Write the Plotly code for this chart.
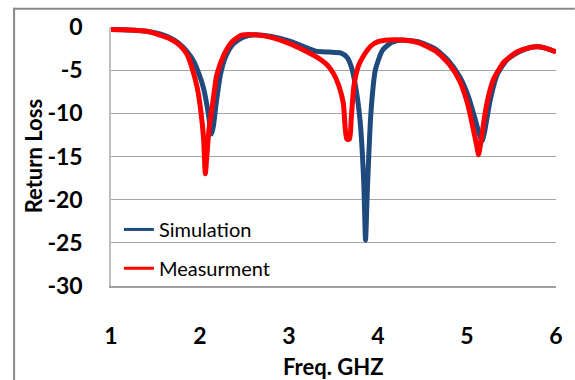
import plotly.graph_objects as go

# ---- data ----
sim_freq = [1.0, 1.2, 1.4, 1.55, 1.65, 1.75, 1.85, 1.93, 1.99, 2.04, 2.09, 2.12, 2.13, 2.15, 2.18, 2.23, 2.29, 2.37, 2.48, 2.62,
            2.8, 3.0, 3.15, 3.3, 3.45, 3.58, 3.65, 3.7, 3.75, 3.8, 3.84, 3.86, 3.88, 3.92, 3.97, 4.05, 4.15, 4.27,
            4.45, 4.65, 4.8, 4.92, 5.02, 5.1, 5.15, 5.17, 5.2, 5.26, 5.34, 5.45, 5.58, 5.7, 5.8, 5.9, 6.0]
sim_rl = [-0.3, -0.35, -0.5, -0.8, -1.2, -1.8, -2.8, -4.0, -5.5, -7.1, -9.8, -12.0, -12.4, -11.5, -9.0, -5.5, -3.4, -2.0, -1.2, -0.9,
          -1.1, -1.6, -2.2, -2.8, -2.9, -3.0, -3.5, -4.6, -7.0, -11.0, -18.0, -24.7, -19.0, -10.0, -5.0, -2.7, -1.8, -1.5,
          -1.7, -2.6, -4.0, -5.8, -8.2, -11.0, -12.8, -13.2, -12.0, -8.5, -5.5, -3.8, -2.9, -2.4, -2.3, -2.5, -2.9]

meas_freq = [1.0, 1.2, 1.4, 1.54, 1.65, 1.77, 1.85, 1.9, 1.97, 2.01, 2.04, 2.06, 2.08, 2.1, 2.14, 2.19, 2.27, 2.36, 2.47, 2.62,
             2.8, 3.0, 3.15, 3.3, 3.43, 3.5, 3.56, 3.61, 3.63, 3.65, 3.68, 3.7, 3.73, 3.78, 3.84, 3.92, 4.0, 4.12, 4.27,
             4.45, 4.65, 4.8, 4.92, 5.01, 5.07, 5.11, 5.13, 5.16, 5.22, 5.3, 5.42, 5.56, 5.7, 5.8, 5.9, 6.0]
meas_rl = [-0.3, -0.35, -0.5, -0.9, -1.3, -2.1, -3.1, -4.4, -7.1, -9.8, -12.9, -17.0, -14.5, -12.0, -9.0, -5.5, -3.2, -1.7, -0.95, -0.9,
           -1.2, -1.9, -2.6, -3.4, -4.4, -5.4, -6.8, -8.8, -11.5, -13.0, -13.0, -10.5, -6.8, -4.5, -3.3, -2.2, -1.7, -1.5, -1.5,
           -1.8, -2.8, -4.3, -6.3, -9.0, -11.8, -13.8, -14.8, -13.0, -9.0, -6.0, -4.0, -2.9, -2.4, -2.3, -2.5, -2.9]

x_ticks = [1, 2, 3, 4, 5, 6]
y_ticks = [0, -5, -10, -15, -20, -25, -30]

BLUE = "#1F4A7E"
RED = "#FF0000"
FONT = "Lato"

fig = go.Figure()
fig.add_trace(go.Scatter(x=sim_freq, y=sim_rl, mode="lines", showlegend=False,
                         line=dict(color=BLUE, width=5, shape="spline", smoothing=0.6)))
fig.add_trace(go.Scatter(x=meas_freq, y=meas_rl, mode="lines", showlegend=False,
                         line=dict(color=RED, width=5, shape="spline", smoothing=0.6)))
# legend entries
fig.add_trace(go.Scatter(x=[None], y=[None], mode="lines", name="Simulation",
                         line=dict(color=BLUE, width=3), legend="legend"))
fig.add_trace(go.Scatter(x=[None], y=[None], mode="lines", name="Measurment",
                         line=dict(color=RED, width=3), legend="legend2"))

L, R, T, B = 111, 14, 25, 94
W, H = 575, 380
pw, ph = W - L - R, H - T - B

legend_style = dict(font=dict(family=FONT, size=20, color="#000"), bgcolor="rgba(0,0,0,0)",
                    xanchor="left", yanchor="middle", x=(119 - L) / pw)

# chart-area frame (left and top edges visible in the reference)
bx0 = (12 - L) / pw
bx1 = (14 - L) / pw
bxr = (W + 5 - L) / pw
by0 = -(B + 10) / ph
bytop0 = 1 + (T - 7.5) / ph
bytop1 = 1 + (T - 5.5) / ph
GRAY = "#878787"

fig.update_layout(
    width=W, height=H,
    margin=dict(l=L, r=R, t=T, b=B),
    paper_bgcolor="white", plot_bgcolor="white",
    legend=dict(legend_style, y=(286 - 229) / ph),
    legend2=dict(legend_style, y=(286 - 268) / ph),
    xaxis=dict(range=[1, 6], tickvals=x_ticks, ticktext=[str(v) for v in x_ticks],
               showgrid=False, zeroline=False,
               showline=True, linecolor="#A0A0A0", linewidth=1.5,
               tickfont=dict(family=FONT, size=23, color="#000", weight="bold"),
               ticklabelstandoff=29),
    yaxis=dict(range=[-30, 0], tickvals=y_ticks, ticktext=[str(v) for v in y_ticks],
               showgrid=True, gridcolor="#A6A6A6", gridwidth=1,
               zeroline=False, showline=True, linecolor="#BFBFBF", linewidth=1.5,
               tickfont=dict(family=FONT, size=23, color="#000", weight="bold"),
               ticklabelstandoff=22),
    shapes=[
        dict(type="rect", xref="paper", yref="paper", x0=bx0, x1=bx1, y0=by0, y1=bytop1,
             fillcolor=GRAY, line=dict(width=0), layer="above"),
        dict(type="rect", xref="paper", yref="paper", x0=bx0, x1=bxr, y0=bytop0, y1=bytop1,
             fillcolor=GRAY, line=dict(width=0), layer="above"),
    ],
    annotations=[
        dict(text="Freq. GHZ", xref="paper", yref="paper", x=0.5, y=-(367 - 286) / ph,
             xanchor="center", yanchor="middle", showarrow=False,
             font=dict(family=FONT, size=22, color="#000", weight="bold")),
        dict(text="Return Loss", xref="paper", yref="paper", x=(33 - L) / pw, y=0.5,
             xanchor="center", yanchor="middle", showarrow=False, textangle=-90,
             font=dict(family=FONT, size=22, color="#000", weight="bold")),
    ],
)

fig.write_html("out.html", config={"displayModeBar": False},
               post_script="document.body.style.margin='0';document.body.style.overflow='hidden';")
